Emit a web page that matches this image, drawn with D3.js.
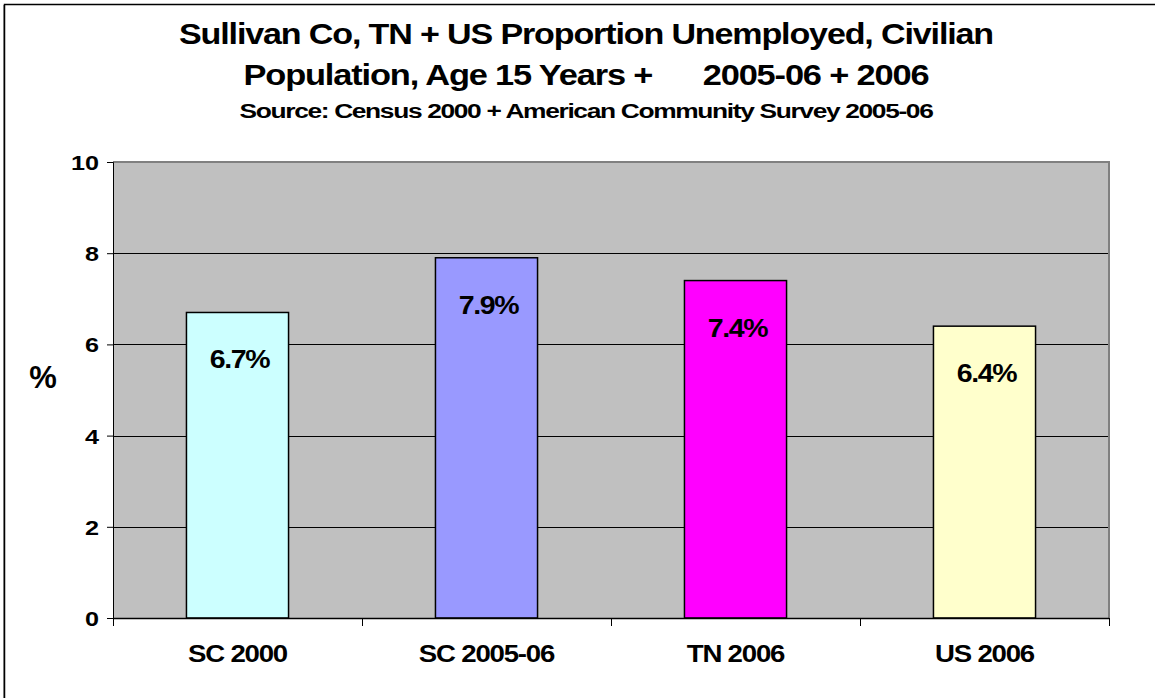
<!DOCTYPE html>
<html>
<head>
<meta charset="utf-8">
<script src="https://cdn.jsdelivr.net/npm/d3@7/dist/d3.min.js"></script>
<style>
  html, body { margin: 0; padding: 0; background: #fff; }
  svg { display: block; }
  text { font-family: "Liberation Sans", Arial, sans-serif; font-weight: bold; fill: #000; }
</style>
</head>
<body>
<svg id="chart" width="1155" height="698"></svg>
<script>
// Unemployment share of the civilian population aged 15+
const categories = ["SC 2000", "SC 2005-06", "TN 2006", "US 2006"];
const values = [6.7, 7.9, 7.4, 6.4];
const barColors = ["#CCFFFF", "#9999FF", "#FF00FF", "#FFFFCC"];
const yTicks = [0, 2, 4, 6, 8, 10];
const titleLines = [
  "Sullivan Co, TN + US Proportion Unemployed, Civilian",
  "Population, Age 15 Years +      2005-06 + 2006"
];
const subtitle = "Source: Census 2000 + American Community Survey 2005-06";
const yAxisTitle = "%";

const svg = d3.select("#chart");
const W = 1155, H = 698;

// Widen glyphs horizontally (tight, wide bold face)
function widen(sel, k) {
  sel.each(function () {
    const len = this.getComputedTextLength();
    d3.select(this).attr("textLength", len * k).attr("lengthAdjust", "spacingAndGlyphs");
  });
}

// Chart frame
svg.append("line").attr("x1", 3.5).attr("x2", 3.5).attr("y1", 5).attr("y2", H)
  .attr("stroke", "#a0a0a0").attr("stroke-width", 1);
svg.append("rect").attr("x", 4.5).attr("y", 4.5).attr("width", W + 10).attr("height", H + 10)
  .attr("fill", "none").attr("stroke", "#000").attr("stroke-width", 1.5);

const plot = { left: 113, right: 1109, top: 162, bottom: 618 };

const x = d3.scaleBand().domain(categories).range([plot.left, plot.right]).paddingInner(0).paddingOuter(0);
const y = d3.scaleLinear().domain([0, 10]).range([plot.bottom, plot.top]);
const barW = x.bandwidth() * 0.41;

// Plot background
svg.append("rect")
  .attr("x", plot.left).attr("y", plot.top)
  .attr("width", plot.right - plot.left).attr("height", plot.bottom - plot.top)
  .attr("fill", "#C0C0C0");

// Gridlines
svg.append("g").selectAll("line").data(yTicks.filter(t => t > 0 && t < 10)).join("line")
  .attr("x1", plot.left).attr("x2", plot.right)
  .attr("y1", d => Math.round(y(d)) + 0.5).attr("y2", d => Math.round(y(d)) + 0.5)
  .attr("stroke", "#000").attr("stroke-width", 1);

// Plot border (top/right in grey)
svg.append("path")
  .attr("d", `M${plot.left},${plot.top} H${plot.right} V${plot.bottom}`)
  .attr("fill", "none").attr("stroke", "#808080").attr("stroke-width", 2);

// Bars
svg.append("g").selectAll("rect").data(values).join("rect")
  .attr("x", (d, i) => x(categories[i]) + (x.bandwidth() - barW) / 2)
  .attr("y", d => y(d))
  .attr("width", barW)
  .attr("height", d => y(0) - y(d))
  .attr("fill", (d, i) => barColors[i])
  .attr("stroke", "#000").attr("stroke-width", 1.5);

// Value labels inside bars
const valueLabels = svg.append("g").selectAll("text").data(values).join("text")
  .attr("x", (d, i) => x(categories[i]) + x.bandwidth() / 2 + 2)
  .attr("y", d => y(d) + 56)
  .attr("text-anchor", "middle")
  .attr("font-size", 25)
  .attr("letter-spacing", -1.2)
  .text(d => d.toFixed(1) + "%");
widen(valueLabels, 1.14);

// Y axis
const yAxis = d3.axisLeft(y).tickValues(yTicks).tickSize(6).tickPadding(8).tickFormat(d3.format("d"));
const gy = svg.append("g").attr("transform", `translate(${plot.left},0)`).call(yAxis);
gy.attr("font-size", null).attr("font-family", null);
gy.select(".domain").attr("stroke", "#000").attr("stroke-width", 1);
gy.selectAll(".tick line").attr("stroke", "#000");
const yLabels = gy.selectAll(".tick text").attr("font-size", 21).attr("dy", "0.36em");
widen(yLabels, 1.2);

// X axis with ticks at category boundaries
const gx = svg.append("g").attr("transform", `translate(0,${plot.bottom})`);
gx.append("line").attr("x1", plot.left).attr("x2", plot.right).attr("y1", 0.5).attr("y2", 0.5)
  .attr("stroke", "#000").attr("stroke-width", 1.5);
const boundaries = categories.map(c => x(c)).concat([x(categories[categories.length - 1]) + x.bandwidth()]);
gx.selectAll("line.tk").data(boundaries).join("line").attr("class", "tk")
  .attr("x1", d => Math.round(d) + 0.5).attr("x2", d => Math.round(d) + 0.5)
  .attr("y1", 0).attr("y2", 8).attr("stroke", "#000");
const xLabels = gx.selectAll("text").data(categories).join("text")
  .attr("x", d => x(d) + x.bandwidth() / 2)
  .attr("y", 44)
  .attr("text-anchor", "middle")
  .attr("font-size", 23)
  .attr("letter-spacing", -1)
  .text(d => d);
widen(xLabels, 1.2);

// Y axis title
svg.append("text").attr("x", 43).attr("y", 388).attr("text-anchor", "middle")
  .attr("font-size", 31).text(yAxisTitle);

// Titles
const titles = [
  { text: titleLines[0], y: 44, size: 30, len: 814 },
  { text: titleLines[1], y: 85, size: 30, len: 685 },
  { text: subtitle, y: 118, size: 19.5, len: 693 }
];
svg.append("g").selectAll("text").data(titles).join("text")
  .attr("x", 586).attr("y", d => d.y)
  .attr("text-anchor", "middle")
  .attr("font-size", d => d.size)
  .attr("letter-spacing", -1)
  .attr("textLength", d => d.len)
  .attr("lengthAdjust", "spacingAndGlyphs")
  .style("white-space", "pre")
  .text(d => d.text);
</script>
</body>
</html>
